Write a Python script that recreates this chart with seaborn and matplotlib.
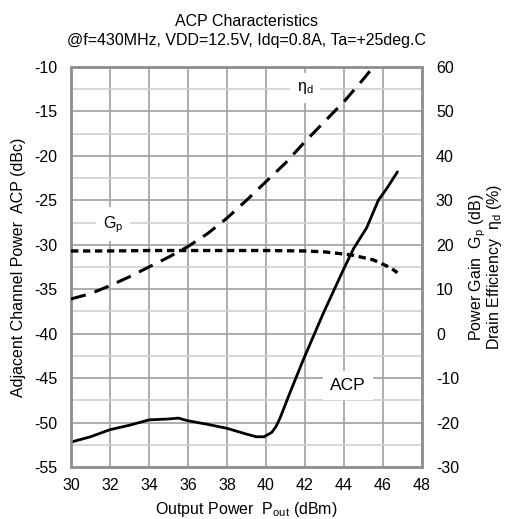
import numpy as np
import pandas as pd
import matplotlib
matplotlib.use("Agg")
import matplotlib.pyplot as plt
import seaborn as sns

# values
acp_pout = [30, 31, 32, 33, 34, 35, 35.5, 36, 37, 38, 39, 39.5, 39.9, 40.3, 40.5, 40.72,
            41.2, 41.9, 42.94, 43.97, 44.5, 45.16, 45.76, 46.2, 46.74]
acp_dbc = [-52.2, -51.6, -50.8, -50.3, -49.7, -49.6, -49.5, -49.8, -50.2, -50.65, -51.3, -51.6,
           -51.6, -51.1, -50.5, -49.5, -46.8, -43.0, -37.7, -32.8, -30.4, -28.1, -25.0, -23.65, -21.8]

gp_pout = [30, 32, 34, 36, 38, 40, 42, 43, 44, 44.5, 45, 45.5, 46, 46.4, 46.74]
gp_db = [18.6, 18.6, 18.7, 18.7, 18.7, 18.7, 18.6, 18.4, 17.9, 17.6, 17.1, 16.6, 15.6, 14.8, 13.7]

eff_pout = [30, 31, 32, 33, 34, 35, 36, 37, 38, 39, 40, 41, 42, 43, 44, 45, 45.5]
eff_pct = [7.8, 9.0, 10.8, 12.8, 15.0, 17.2, 19.6, 22.5, 26.0, 30.0, 34.2, 38.4, 43.2, 47.7, 52.2, 57.3, 60.0]

x_ticks = np.arange(30, 49, 2)
left_ticks = np.arange(-55, -9, 5)
right_ticks = np.arange(-30, 61, 10)

acp_df = pd.DataFrame({"pout": acp_pout, "acp": acp_dbc})
gp_df = pd.DataFrame({"pout": gp_pout, "gp": gp_db})
eff_df = pd.DataFrame({"pout": eff_pout, "eff": eff_pct})

sns.set_style("white")
plt.rcParams["font.family"] = ["Liberation Sans", "DejaVu Sans"]
plt.rcParams["mathtext.fontset"] = "custom"
plt.rcParams["mathtext.rm"] = "Liberation Sans"
plt.rcParams["mathtext.it"] = "Liberation Sans"
plt.rcParams["axes.unicode_minus"] = False
plt.rcParams["text.color"] = "black"
plt.rcParams["axes.labelcolor"] = "black"
plt.rcParams["xtick.color"] = "black"
plt.rcParams["ytick.color"] = "black"

FS = 11.5

fig, ax = plt.subplots(figsize=(5.06, 5.19), dpi=100)
fig.subplots_adjust(left=0.1403, right=0.834, top=0.871, bottom=0.1002)

# grid: vertical every 2 dBm, horizontal every 2.5 dBc (major darker)
for xv in x_ticks[1:-1]:
    ax.axvline(xv, color="#a0a0a0", lw=1.2, zorder=0)
for yv in np.arange(-52.5, -10, 5):
    ax.axhline(yv, color="#cfcfcf", lw=1.2, zorder=0)
for yv in left_ticks[1:-1]:
    ax.axhline(yv, color="#a0a0a0", lw=1.2, zorder=0)

sns.lineplot(data=acp_df, x="pout", y="acp", ax=ax, color="black", lw=2.0, zorder=3)
ax.set_xlim(30, 48)
ax.set_ylim(-55, -10)
ax.set_xticks(x_ticks)
ax.set_yticks(left_ticks)
ax.set_xlabel("Output Power  P$_{\\mathrm{out}}$ (dBm)", fontsize=FS, labelpad=5)
ax.set_ylabel("Adjacent Channel Power  ACP (dBc)", fontsize=FS, labelpad=6)
ax.tick_params(axis="x", labelsize=FS, length=0, pad=8)
ax.tick_params(axis="y", labelsize=FS, length=0, pad=10)

ax2 = ax.twinx()
sns.lineplot(data=gp_df, x="pout", y="gp", ax=ax2, color="black", lw=2.4,
             zorder=3).lines[0].set_dashes([2.2, 1.4])
sns.lineplot(data=eff_df, x="pout", y="eff", ax=ax2, color="black", lw=2.2,
             zorder=3).lines[1].set_dashes([5.0, 3.0])
ax2.set_ylim(-30, 60)
ax2.set_yticks(right_ticks)
ax2.set_ylabel("Power Gain  G$_{\\mathrm{p}}$ (dB)\nDrain Efficiency  \u03b7$_{\\mathrm{d}}$ (%)",
               fontsize=FS, labelpad=6, linespacing=0.8)
ax2.tick_params(labelsize=FS, length=0, pad=10)

for a in (ax, ax2):
    for s in a.spines.values():
        s.set_color("#909090")
        s.set_linewidth(1.8)

box = dict(facecolor="white", edgecolor="none", pad=5)
ax.text(42.0, -12.4, "\u03b7$_{\\mathrm{d}}$", fontsize=FS, ha="center", va="center", bbox=box, zorder=4)
ax.text(32.15, -27.7, "G$_{\\mathrm{p}}$", fontsize=FS, ha="center", va="center", bbox=box, zorder=4)
ax.text(44.2, -45.8, "ACP", fontsize=12.5, ha="center", va="center", bbox=box, zorder=4)

ax.set_title("ACP Characteristics\n@f=430MHz, VDD=12.5V, Idq=0.8A, Ta=+25deg.C",
             fontsize=FS, pad=16, linespacing=1.3)

fig.savefig("out.png", dpi=100)
